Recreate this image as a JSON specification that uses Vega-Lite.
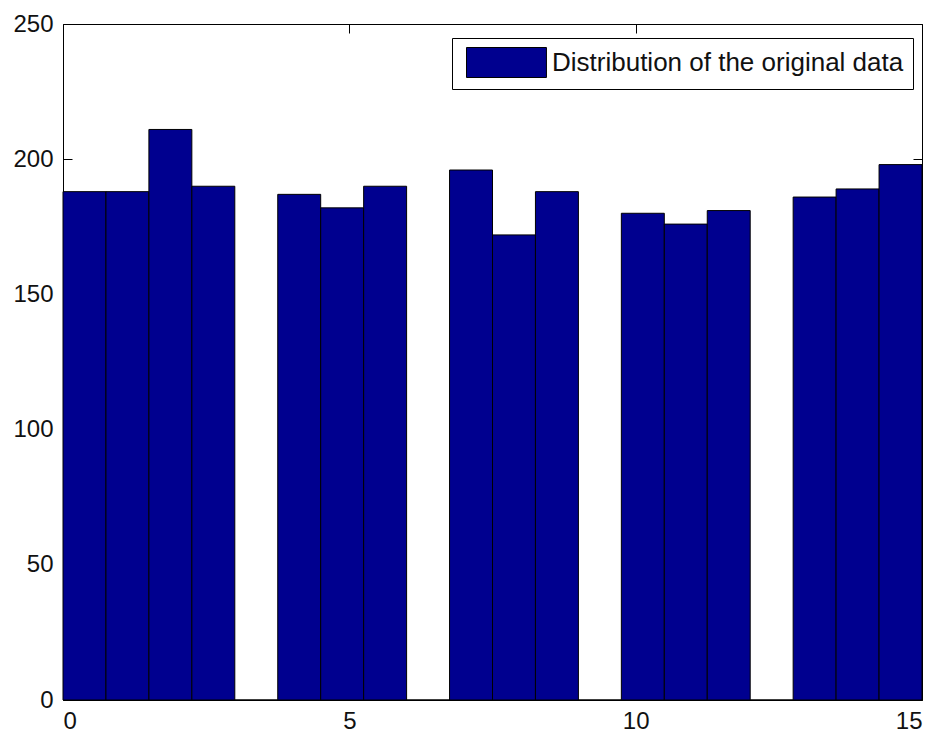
{
  "$schema": "https://vega.github.io/schema/vega-lite/v6.json",
  "width": 859,
  "height": 676,
  "autosize": {"type": "none"},
  "padding": {"left": 63, "top": 24, "right": 16, "bottom": 33},
  "background": "white",
  "config": {
    "view": {"stroke": "black", "strokeWidth": 1},
    "axis": {
      "domain": false,
      "grid": false,
      "ticks": true,
      "tickSize": -9,
      "tickColor": "black",
      "tickWidth": 1,
      "labelFont": "Liberation Sans",
      "labelFontSize": 24,
      "labelColor": "#111111",
      "title": null
    }
  },
  "data": {
    "values": [
      {"start": 0.0, "end": 0.75, "count": 188},
      {"start": 0.75, "end": 1.5, "count": 188},
      {"start": 1.5, "end": 2.25, "count": 211},
      {"start": 2.25, "end": 3.0, "count": 190},
      {"start": 3.0, "end": 3.75, "count": 0},
      {"start": 3.75, "end": 4.5, "count": 187},
      {"start": 4.5, "end": 5.25, "count": 182},
      {"start": 5.25, "end": 6.0, "count": 190},
      {"start": 6.0, "end": 6.75, "count": 0},
      {"start": 6.75, "end": 7.5, "count": 196},
      {"start": 7.5, "end": 8.25, "count": 172},
      {"start": 8.25, "end": 9.0, "count": 188},
      {"start": 9.0, "end": 9.75, "count": 0},
      {"start": 9.75, "end": 10.5, "count": 180},
      {"start": 10.5, "end": 11.25, "count": 176},
      {"start": 11.25, "end": 12.0, "count": 181},
      {"start": 12.0, "end": 12.75, "count": 0},
      {"start": 12.75, "end": 13.5, "count": 186},
      {"start": 13.5, "end": 14.25, "count": 189},
      {"start": 14.25, "end": 15.0, "count": 198}
    ]
  },
  "layer": [
    {
      "mark": {"type": "bar", "stroke": "black", "strokeWidth": 1, "opacity": 1},
      "encoding": {
        "x": {
          "field": "start",
          "type": "quantitative",
          "scale": {"domain": [0, 15], "nice": false, "zero": false},
          "axis": {"orient": "bottom", "values": [0, 5, 10, 15], "labelPadding": 18}
        },
        "x2": {"field": "end"},
        "y": {
          "field": "count",
          "type": "quantitative",
          "scale": {"domain": [0, 250], "nice": false},
          "axis": {"orient": "left", "values": [0, 50, 100, 150, 200, 250], "labelPadding": 19}
        },
        "y2": {"datum": 0},
        "color": {
          "datum": "Distribution of the original data",
          "type": "nominal",
          "scale": {"range": ["#00008F"]},
          "legend": {
            "title": null,
            "orient": "none",
            "legendX": 389,
            "legendY": 14,
            "padding": 9,
            "strokeColor": "black",
            "fillColor": "white",
            "symbolType": "M-1,-1H4.33V1H-1Z",
            "symbolSize": 900,
            "symbolOffset": 5,
            "symbolStrokeColor": "black",
            "symbolStrokeWidth": 1,
            "symbolOpacity": 1,
            "labelFont": "Liberation Sans",
            "labelFontSize": 26,
            "labelColor": "#111111",
            "labelOffset": 55,
            "labelLimit": 600
          }
        }
      }
    },
    {
      "mark": {"type": "bar", "opacity": 0},
      "encoding": {
        "x": {
          "field": "start",
          "type": "quantitative",
          "axis": {"orient": "top", "values": [0, 5, 10, 15], "labels": false}
        },
        "x2": {"field": "end"},
        "y": {
          "field": "count",
          "type": "quantitative",
          "axis": {"orient": "right", "values": [0, 50, 100, 150, 200, 250], "labels": false}
        },
        "y2": {"datum": 0}
      }
    }
  ],
  "resolve": {"axis": {"x": "independent", "y": "independent"}}
}
